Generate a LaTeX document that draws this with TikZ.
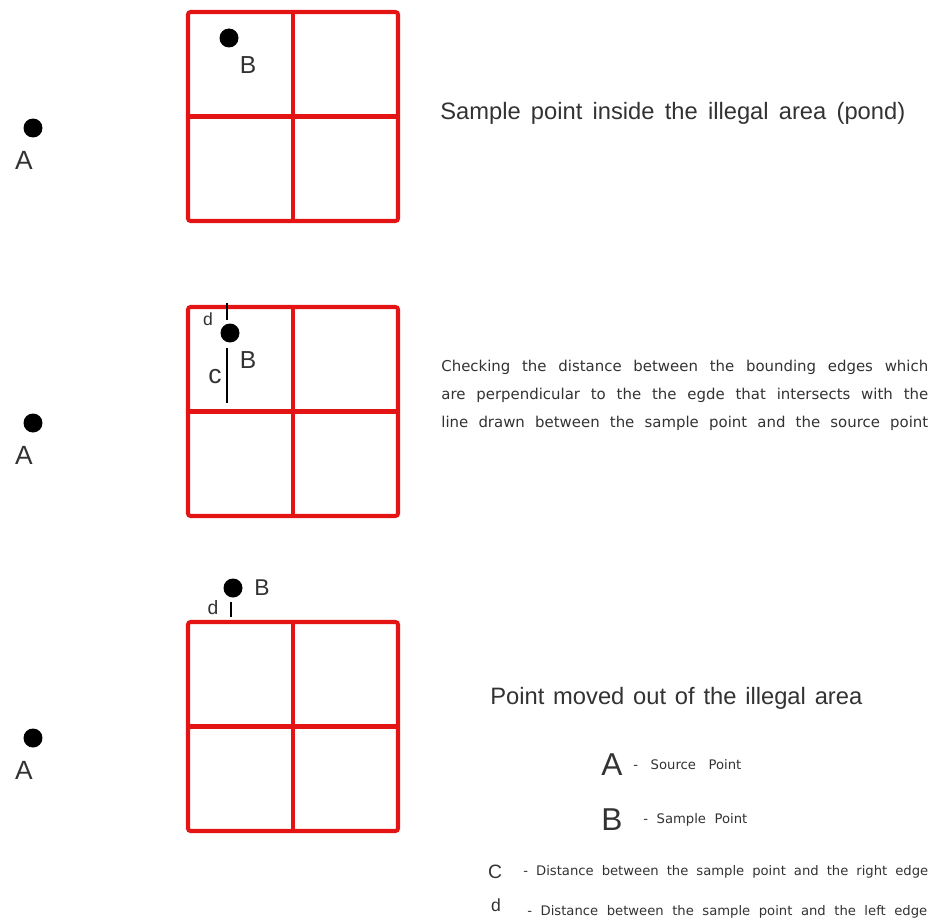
\documentclass[tikz,border=0pt]{standalone}
\usepackage{fontspec}
\setmainfont{Liberation Sans}
\newfontfamily\widesans{DejaVu Sans}
\usepackage{xcolor}
\definecolor{pondred}{RGB}{228,20,20}
\definecolor{textgray}{RGB}{50,50,50}

\newcommand{\spreadline}[2]{\makebox[#1][s]{#2}}

\begin{document}
\begin{tikzpicture}[x=0.02cm, y=-0.02cm,
    pond/.style={draw=pondred, line width=2.3pt, rounded corners=1.5pt},
    dot/.style={circle, fill=black, inner sep=0pt, minimum size=0.38cm},
    lbl/.style={inner sep=0pt, text=textgray, font=\fontsize{15}{18}\selectfont},
    gap/.style={line width=1.7pt, black},
    note/.style={inner sep=0pt, anchor=west, text=textgray}
]
    \useasboundingbox (0,0) rectangle (932,922);

    % the pond, three times
    \foreach \y in {12,307,622} {
        \draw[pond] (188,\y) rectangle (398,\y+209);
        \draw[pond] (293,\y) -- (293,\y+209);
        \draw[pond] (188,\y+104.5) -- (398,\y+104.5);
    }

    % source points
    \foreach \n/\y in {1/128,2/423,3/738} {
        \node[dot] (A\n) at (33,\y) {};
        \node[lbl] (labelA\n) at (24,\y+32) {A};
    }

    % step 1: sample point inside
    \node[dot] (B1) at (229,38) {};
    \node[lbl, font=\fontsize{14}{16}\selectfont] (labelB1) at (248,65) {B};

    % step 2: distances to the edges
    \node[dot] (B2) at (230,333) {};
    \node[lbl, font=\fontsize{14}{16}\selectfont] (labelB2) at (248,360) {B};
    \coordinate (d2top) at (227,303);
    \coordinate (d2bot) at (227,320);
    \draw[gap] (d2top) -- (d2bot);
    \node[lbl, font=\fontsize{10}{12}\selectfont] (labeld2) at (208,319) {d};
    \coordinate (c2top) at (227,348);
    \coordinate (c2bot) at (227,403);
    \draw[gap] (c2top) -- (c2bot);
    \node[lbl] (labelc2) at (215,377) {c};

    % step 3: point moved out
    \node[dot] (B3) at (233,588) {};
    \node[lbl, font=\fontsize{13}{15}\selectfont] (labelB3) at (262,588) {B};
    \coordinate (d3top) at (231,602);
    \coordinate (d3bot) at (231,617);
    \draw[gap] (d3top) -- (d3bot);
    \node[lbl, font=\fontsize{11}{13}\selectfont] (labeld3) at (213,608) {d};

    % captions
    \node[note, font=\fontsize{13.5}{15}\selectfont] (insidetext) at (440,113)
        {\spreadline{9.3cm}{Sample point inside the illegal area (pond)}};
    \node[note, align=left, font=\widesans\fontsize{8.5}{15.9}\selectfont] (checktext) at (441,395)
        {\spreadline{9.74cm}{Checking the distance between the bounding edges which}\\
         \spreadline{9.74cm}{are perpendicular to the the egde that intersects with the}\\
         \spreadline{9.74cm}{line drawn between the sample point and the source point}};
    \node[note, font=\fontsize{13.5}{15}\selectfont] (movedtext) at (490,698)
        {\spreadline{7.44cm}{Point moved out of the illegal area}};

    % legend
    \node[lbl, font=\fontsize{18}{20}\selectfont] (keyA) at (612,765) {A};
    \node[note, font=\widesans\fontsize{7.5}{10}\selectfont] (keyAtext) at (633,765)
        {\spreadline{2.16cm}{- Source Point}};
    \node[lbl, font=\fontsize{18}{20}\selectfont] (keyB) at (612,820) {B};
    \node[note, font=\widesans\fontsize{7.5}{10}\selectfont] (keyBtext) at (643,820)
        {\spreadline{2.08cm}{- Sample Point}};
    \node[lbl, font=\fontsize{11}{13}\selectfont] (keyC) at (495,872) {C};
    \node[note, font=\widesans\fontsize{7.5}{10}\selectfont] (keyCtext) at (523,872)
        {\spreadline{8.1cm}{- Distance between the sample point and the right edge}};
    \node[lbl, font=\fontsize{10}{12}\selectfont] (keyd) at (496,905) {d};
    \node[note, font=\widesans\fontsize{7.5}{10}\selectfont] (keydtext) at (527,912)
        {\spreadline{8.0cm}{- Distance between the sample point and the left edge}};
\end{tikzpicture}
\end{document}
